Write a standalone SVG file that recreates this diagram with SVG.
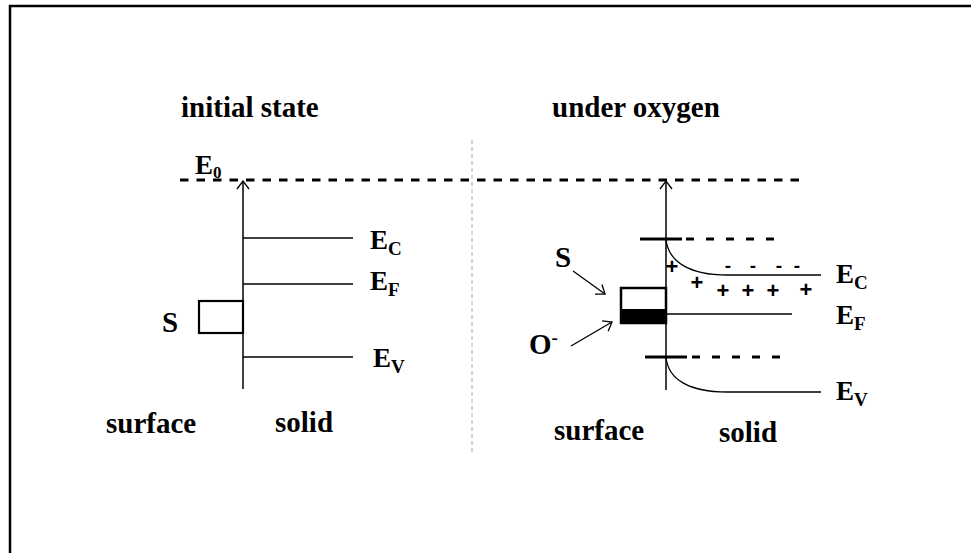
<svg xmlns="http://www.w3.org/2000/svg" width="971" height="553" viewBox="0 0 971 553">
<defs>
<marker id="ah" markerUnits="userSpaceOnUse" markerWidth="14" markerHeight="14" viewBox="0 0 14 14" refX="9" refY="7" orient="auto">
<path d="M1,1 L9,7 L1,13" fill="none" stroke="#000" stroke-width="1.3"/>
</marker>
</defs>
<style>
text{font-family:"Liberation Serif","Times New Roman",serif;font-weight:bold;fill:#000}
.w{font-size:29px}
.e{font-size:27px}
.sub{font-size:19px}
.pl{font-family:"Liberation Sans",Arial,sans-serif;font-size:22px}
.mi{font-family:"Liberation Sans",Arial,sans-serif;font-size:19px}
.lv{stroke:#000;stroke-width:1.3;fill:none}
.ax{stroke:#000;stroke-width:1.5;fill:none}
.e0{stroke:#000;stroke-width:3;stroke-dasharray:8.5 8}
.sd{stroke:#000;stroke-width:3;stroke-dasharray:8 12}
.bar{stroke:#000;stroke-width:3}
</style>
<rect x="10" y="6" width="980" height="570" fill="#fff" stroke="#000" stroke-width="2.5"/>
<line x1="472" y1="140" x2="472" y2="455" stroke="#aaa" stroke-width="1" stroke-dasharray="4 3"/>
<g id="titles">
<text class="w" x="181" y="117">initial state</text>
<text class="w" x="552" y="117">under oxygen</text>
</g>
<g id="vacuum">
<line class="e0" x1="180" y1="180" x2="806" y2="180"/>
<text class="e" x="195" y="174">E<tspan style="font-size:17px" dy="4">0</tspan></text>
</g>
<g id="left-diagram">
<line class="lv" x1="243" y1="238" x2="353" y2="238"/>
<line class="lv" x1="243" y1="284" x2="353" y2="284"/>
<line class="lv" x1="243" y1="357" x2="353" y2="357"/>
<rect x="199" y="301" width="44" height="32" fill="none" stroke="#000" stroke-width="2.2"/>
<text class="e" x="370" y="249">E<tspan class="sub" dy="6">C</tspan></text>
<text class="e" x="370" y="290">E<tspan class="sub" dy="6">F</tspan></text>
<text class="e" x="373" y="367">E<tspan class="sub" dy="6">V</tspan></text>
<text class="w" x="162" y="332">S</text>
<text class="w" x="106" y="433">surface</text>
<text class="w" x="275" y="432">solid</text>
</g>
<g id="right-diagram">
<rect x="621" y="288" width="45" height="35" fill="#fff" stroke="#000" stroke-width="2.5"/>
<rect x="621" y="309" width="45" height="14" fill="#000"/>
<line class="lv" x1="666" y1="314" x2="792" y2="314"/>
<line class="bar" x1="640" y1="239" x2="682" y2="239"/>
<line class="sd" x1="686" y1="239" x2="776" y2="239"/>
<path class="lv" d="M666,239 C668,262 690,275 727,275 L821,275"/>
<line class="bar" x1="645" y1="357" x2="687" y2="357"/>
<line class="sd" x1="692" y1="357" x2="782" y2="357"/>
<path class="lv" d="M666,357 C668,380 690,392 727,392 L821,392"/>
<text class="mi" text-anchor="middle" x="728" y="272">-</text>
<text class="mi" text-anchor="middle" x="753" y="272">-</text>
<text class="mi" text-anchor="middle" x="779" y="272">-</text>
<text class="mi" text-anchor="middle" x="797" y="272">-</text>
<text class="pl" text-anchor="middle" x="672" y="274">+</text>
<text class="pl" text-anchor="middle" x="697" y="290">+</text>
<text class="pl" text-anchor="middle" x="723" y="298">+</text>
<text class="pl" text-anchor="middle" x="748" y="298">+</text>
<text class="pl" text-anchor="middle" x="773" y="298">+</text>
<text class="pl" text-anchor="middle" x="806" y="297">+</text>
<text class="e" x="836" y="283">E<tspan class="sub" dy="6">C</tspan></text>
<text class="e" x="836" y="324">E<tspan class="sub" dy="6">F</tspan></text>
<text class="e" x="836" y="400">E<tspan class="sub" dy="6">V</tspan></text>
<text class="w" x="555" y="267">S</text>
<text class="w" x="529" y="354">O<tspan class="sub" dy="-10">-</tspan></text>
<text class="w" x="554" y="440">surface</text>
<text class="w" x="719" y="442">solid</text>
</g>
<g id="connectors">
<line class="ax" x1="243" y1="389" x2="243" y2="181" marker-end="url(#ah)"/>
<line class="ax" x1="666" y1="390" x2="666" y2="181" marker-end="url(#ah)"/>
<line class="lv" x1="573" y1="271" x2="605" y2="294" marker-end="url(#ah)"/>
<line class="lv" x1="571" y1="346" x2="612" y2="322" marker-end="url(#ah)"/>
</g>
</svg>
